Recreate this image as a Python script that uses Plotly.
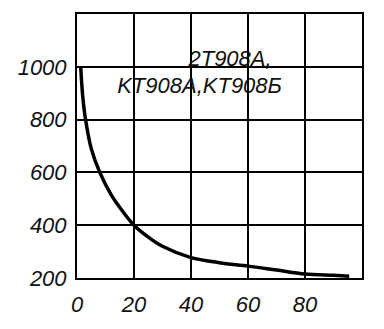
import plotly.graph_objects as go

# Data
u_kb = [1.3, 2, 3, 5, 8, 12, 16, 20, 25, 30, 40, 50, 60, 70, 80, 90, 95.5]
c_k = [1000, 890, 800, 690, 600, 515, 453, 400, 355, 320, 277, 258, 245, 230, 215, 210, 207]

x_ticks = [0, 20, 40, 60, 80]
x_labels = ["0", "20", "40", "60", "80"]
y_ticks = [200, 400, 600, 800, 1000]
y_labels = ["200", "400", "600", "800", "1000"]

y_title = "C<sub>к</sub>,пФ"
x_title = "U<sub>КБ</sub>,В"
device_lines = ["2T908A,", "KT908A,KT908Б"]

FONT = "Liberation Sans"
INK = "#111111"

fig = go.Figure()
fig.add_trace(go.Scatter(x=u_kb, y=c_k, mode="lines",
                         line=dict(color="black", width=3.5, shape="spline", smoothing=1.0),
                         showlegend=False))

# texts as text traces (placed with the axes' own scales)
fig.add_trace(go.Scatter(x=[53.7, 43.0], y=[1024, 922], mode="text",
                         text=["<i>%s</i>" % t for t in device_lines],
                         textposition="middle center", cliponaxis=False, showlegend=False,
                         textfont=dict(family=FONT, size=22, color=INK)))
fig.add_trace(go.Scatter(x=[-13.5], y=[1165], mode="text", text=["<i>%s</i>" % y_title],
                         textposition="middle center", cliponaxis=False, showlegend=False,
                         textfont=dict(family=FONT, size=21, color=INK)))
fig.add_trace(go.Scatter(x=[95.3], y=[140], mode="text", text=["<i>%s</i>" % x_title],
                         textposition="middle center", cliponaxis=False, showlegend=False,
                         textfont=dict(family=FONT, size=22, color=INK)))

fig.update_xaxes(range=[0, 100], tickmode="array", tickvals=x_ticks,
                 ticktext=["<i>%s</i>" % t for t in x_labels],
                 showgrid=True, gridcolor="black", gridwidth=2, zeroline=False,
                 showline=True, linecolor="black", linewidth=2, mirror=True,
                 ticks="outside", ticklen=6, tickcolor="white",
                 tickfont=dict(family=FONT, size=22, color=INK))
fig.update_yaxes(range=[200, 1200], tickmode="array", tickvals=y_ticks,
                 ticktext=["<i>%s</i>" % t for t in y_labels],
                 showgrid=True, gridcolor="black", gridwidth=2, zeroline=False,
                 showline=True, linecolor="black", linewidth=2, mirror=True,
                 ticks="outside", ticklen=4, tickcolor="white",
                 tickfont=dict(family=FONT, size=22, color=INK))

fig.update_layout(width=384, height=329, margin=dict(l=77, r=22, t=13, b=32),
                  paper_bgcolor="white", plot_bgcolor="white")
fig.write_html("out.html")
